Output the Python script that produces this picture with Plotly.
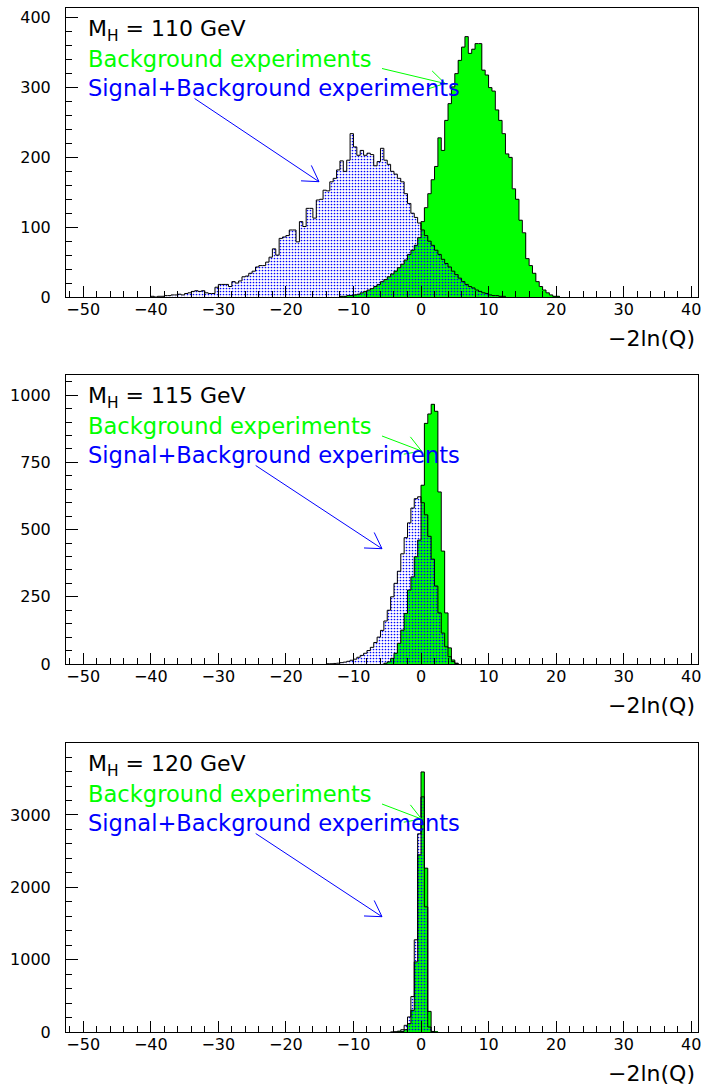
import math
import plotly.graph_objects as go

# ---------------- data (bin width 0.5 in -2ln(Q)) ----------------
BIN_W = 0.5
x_tick_labels = [-50, -40, -30, -20, -10, 0, 10, 20, 30, 40]
masses = ["110", "115", "120"]

# Panel 1 : M_H = 110 GeV
p1_green_start = -12.0
p1_green = [1, 1, 2, 2, 3, 4, 6, 8, 10, 12, 15, 18, 22, 25, 29, 33, 37, 42, 47, 53, 61, 67, 74, 85,
            108, 128, 148, 168, 187, 228, 210, 253, 277, 301,
            320, 339, 358, 373, 349, 355, 363, 363, 325, 318,
            300, 295, 268, 253, 234, 205, 200, 155, 140, 110,
            92, 55, 45, 34, 22, 15, 10, 6, 3, 1, 1]
p1_blue_start = -40.0
p1_blue = [1, 0, 1, 1, 2, 2, 3, 3, 4, 3,
           5, 6, 8, 9, 8, 9, 6, 5, 5, 14,
           18, 18, 18, 15, 22, 20, 23, 29, 30, 34,
           37, 43, 45, 45, 50, 57, 69, 60, 84, 86,
           88, 96, 96, 79, 108, 101, 127, 127, 113, 139,
           140, 153, 152, 165, 170, 182, 195, 180, 196, 234,
           215, 203, 210, 203, 206, 204, 188, 194, 213, 196,
           190, 180, 176, 170, 165, 148, 134, 120, 114, 106,
           96, 88, 80, 74, 67, 61, 54, 48, 43, 37,
           32, 27, 22, 18, 15, 13, 10, 8, 6, 5,
           3, 2, 2, 1, 1]

# Panel 2 : M_H = 115 GeV
p2_green_start = -5.5
p2_green = [3, 8, 21, 40, 77, 126, 188, 275, 324, 399, 461,
            665, 895, 930, 966, 940, 640, 420, 190, 60, 15, 3]
p2_blue_start = -14.0
p2_blue = [1, 1, 2, 3, 5, 7, 10, 14, 18, 25,
           32, 40, 50, 62, 80, 100, 125, 160, 200, 250,
           300, 345, 410, 470, 525, 580, 615, 622,
           600, 555, 475, 390, 290, 190, 115, 64, 27, 9, 2]

# Panel 3 : M_H = 120 GeV
p3_green_start = -3.5
p3_green = [2, 8, 32, 115, 300, 970, 2450, 3595, 2265, 285, 8, 1]
p3_blue_start = -4.5
p3_blue = [2, 5, 12, 32, 92, 208, 490, 1275, 2740, 3250, 1730, 69, 2]

green_starts = [p1_green_start, p2_green_start, p3_green_start]
greens = [p1_green, p2_green, p3_green]
blue_starts = [p1_blue_start, p2_blue_start, p3_blue_start]
blues = [p1_blue, p2_blue, p3_blue]

y_max = [414, 1075, 3995]
y_dtick = [100, 250, 1000]
y_minor = [20, 50, 200]
x_range = [-52.55, 41.0]

# ---------------- layout geometry (screen pixels) ----------------
W, H = 708, 1086
PL, PR, PT, PB = 66, 698, 8, 1032          # plot area in page pixels
ML, MR, MT, MB = PL, W - PR, PT, H - PB
PW, PH = PR - PL, PB - PT
panel_tops = [8, 375, 743]
panel_bottoms = [297, 664, 1032]

GREEN = "#00ff00"
BLUE = "#0000ff"
FONT = "DejaVu Sans"


def px_x(px):
    return (px - PL) / PW


def px_y(py):
    return (PB - py) / PH


fig = go.Figure()
shapes = []
annotations = []


def hist_traces(start, counts, axis_idx, kind):
    n = len(counts)
    centers = [start + BIN_W * (i + 0.5) for i in range(n)]
    edges = [start + BIN_W * i for i in range(n + 1)]
    xa = "x" if axis_idx == 1 else f"x{axis_idx}"
    ya = "y" if axis_idx == 1 else f"y{axis_idx}"
    if kind == "green":
        marker = dict(color=GREEN, line=dict(width=0))
    else:
        marker = dict(color="rgba(0,0,0,0)", line=dict(width=0),
                      pattern=dict(shape=".", fgcolor=BLUE, bgcolor="rgba(0,0,0,0)",
                                   size=3, solidity=0.25, fillmode="replace"))
    bar = go.Bar(x=centers, y=counts, width=BIN_W, marker=marker,
                 xaxis=xa, yaxis=ya, hoverinfo="skip")
    sx = [edges[0]] + edges[:n] + [edges[n]]
    sy = [0] + list(counts) + [0]
    line = go.Scatter(x=sx, y=sy, mode="lines", line=dict(color="black", width=1, shape="hv"),
                      xaxis=xa, yaxis=ya, hoverinfo="skip")
    return bar, line


lines_to_add = []
for i in range(3):
    gb, gl = hist_traces(green_starts[i], greens[i], i + 1, "green")
    bb, bl = hist_traces(blue_starts[i], blues[i], i + 1, "blue")
    fig.add_trace(gb)
    fig.add_trace(bb)
    lines_to_add += [gl, bl]
for tr in lines_to_add:
    fig.add_trace(tr)


def add_arrow(x0, y0, x1, y1, color):
    shapes.append(dict(type="line", xref="paper", yref="paper",
                       x0=px_x(x0), y0=px_y(y0), x1=px_x(x1), y1=px_y(y1),
                       line=dict(color=color, width=1)))
    dx, dy = x0 - x1, y0 - y1
    L = math.hypot(dx, dy)
    ux, uy = dx / L, dy / L
    a = math.radians(31)
    hl = 18
    for s in (1, -1):
        rx = ux * math.cos(s * a) - uy * math.sin(s * a)
        ry = ux * math.sin(s * a) + uy * math.cos(s * a)
        shapes.append(dict(type="line", xref="paper", yref="paper",
                           x0=px_x(x1), y0=px_y(y1), x1=px_x(x1 + hl * rx), y1=px_y(y1 + hl * ry),
                           line=dict(color=color, width=1)))


layout_axes = {}
for i in range(3):
    top = panel_tops[i]
    bottom = panel_bottoms[i]
    ref_top = bottom - 289
    dom = [max(0.0, px_y(bottom)), min(1.0, px_y(top))]
    sfx = "" if i == 0 else str(i + 1)
    layout_axes["xaxis" + sfx] = dict(
        domain=[0, 1], anchor="y" + sfx, range=x_range,
        tickmode="array", tickvals=x_tick_labels,
        ticks="inside", ticklen=11, tickwidth=1, tickcolor="black",
        minor=dict(ticks="inside", ticklen=6, dtick=2, tick0=0, tickcolor="black", showgrid=False),
        showline=True, mirror=True, linecolor="black", linewidth=1,
        showgrid=False, zeroline=False,
        tickfont=dict(family=FONT, size=16, color="black"), ticklabelstandoff=-2,
    )
    layout_axes["yaxis" + sfx] = dict(
        domain=dom, anchor="x" + sfx, range=[0, y_max[i]],
        tickmode="linear", tick0=0, dtick=y_dtick[i],
        ticks="inside", ticklen=12, tickwidth=1, tickcolor="black",
        minor=dict(ticks="inside", ticklen=6, dtick=y_minor[i], tickcolor="black", showgrid=False),
        showline=True, mirror=True, linecolor="black", linewidth=1,
        showgrid=False, zeroline=False,
        tickfont=dict(family=FONT, size=16, color="black"), ticklabelstandoff=11,
    )

    # texts
    annotations.append(dict(text=f"M<sub>H</sub> = {masses[i]} GeV", xref="paper", yref="paper",
                            x=px_x(86), y=px_y(ref_top + 22), xanchor="left", yanchor="middle",
                            showarrow=False, font=dict(family=FONT, size=22, color="black")))
    annotations.append(dict(text="Background experiments", xref="paper", yref="paper",
                            x=px_x(86), y=px_y(ref_top + 50.5), xanchor="left", yanchor="middle",
                            showarrow=False, font=dict(family=FONT, size=22.6, color=GREEN)))
    annotations.append(dict(text="Signal+Background experiments", xref="paper", yref="paper",
                            x=px_x(86), y=px_y(ref_top + 79.5), xanchor="left", yanchor="middle",
                            showarrow=False, font=dict(family=FONT, size=22.6, color=BLUE)))
    annotations.append(dict(text="\u22122ln(Q)", xref="paper", yref="paper",
                            x=px_x(697), y=px_y(bottom + 41), xanchor="right", yanchor="middle",
                            showarrow=False, font=dict(family=FONT, size=22, color="black")))
    # arrows
    if i == 0:
        add_arrow(382, ref_top + 60.5, 445, ref_top + 75.5, GREEN)
        add_arrow(194.6, ref_top + 90.5, 319, ref_top + 173.7, BLUE)
    else:
        add_arrow(382, ref_top + 61, 421.5, ref_top + 76, GREEN)
        add_arrow(255.7, ref_top + 90.5, 382, ref_top + 173.7, BLUE)

fig.update_layout(
    width=W, height=H,
    margin=dict(l=ML, r=MR, t=MT, b=MB),
    paper_bgcolor="white", plot_bgcolor="white",
    showlegend=False, barmode="overlay", bargap=0,
    font=dict(family=FONT, size=16, color="black"),
    shapes=shapes, annotations=annotations,
    **layout_axes,
)

fig.write_html("out.html",
               config={"displayModeBar": False},
               post_script="document.body.style.margin='0px';document.body.style.overflow='hidden';")
